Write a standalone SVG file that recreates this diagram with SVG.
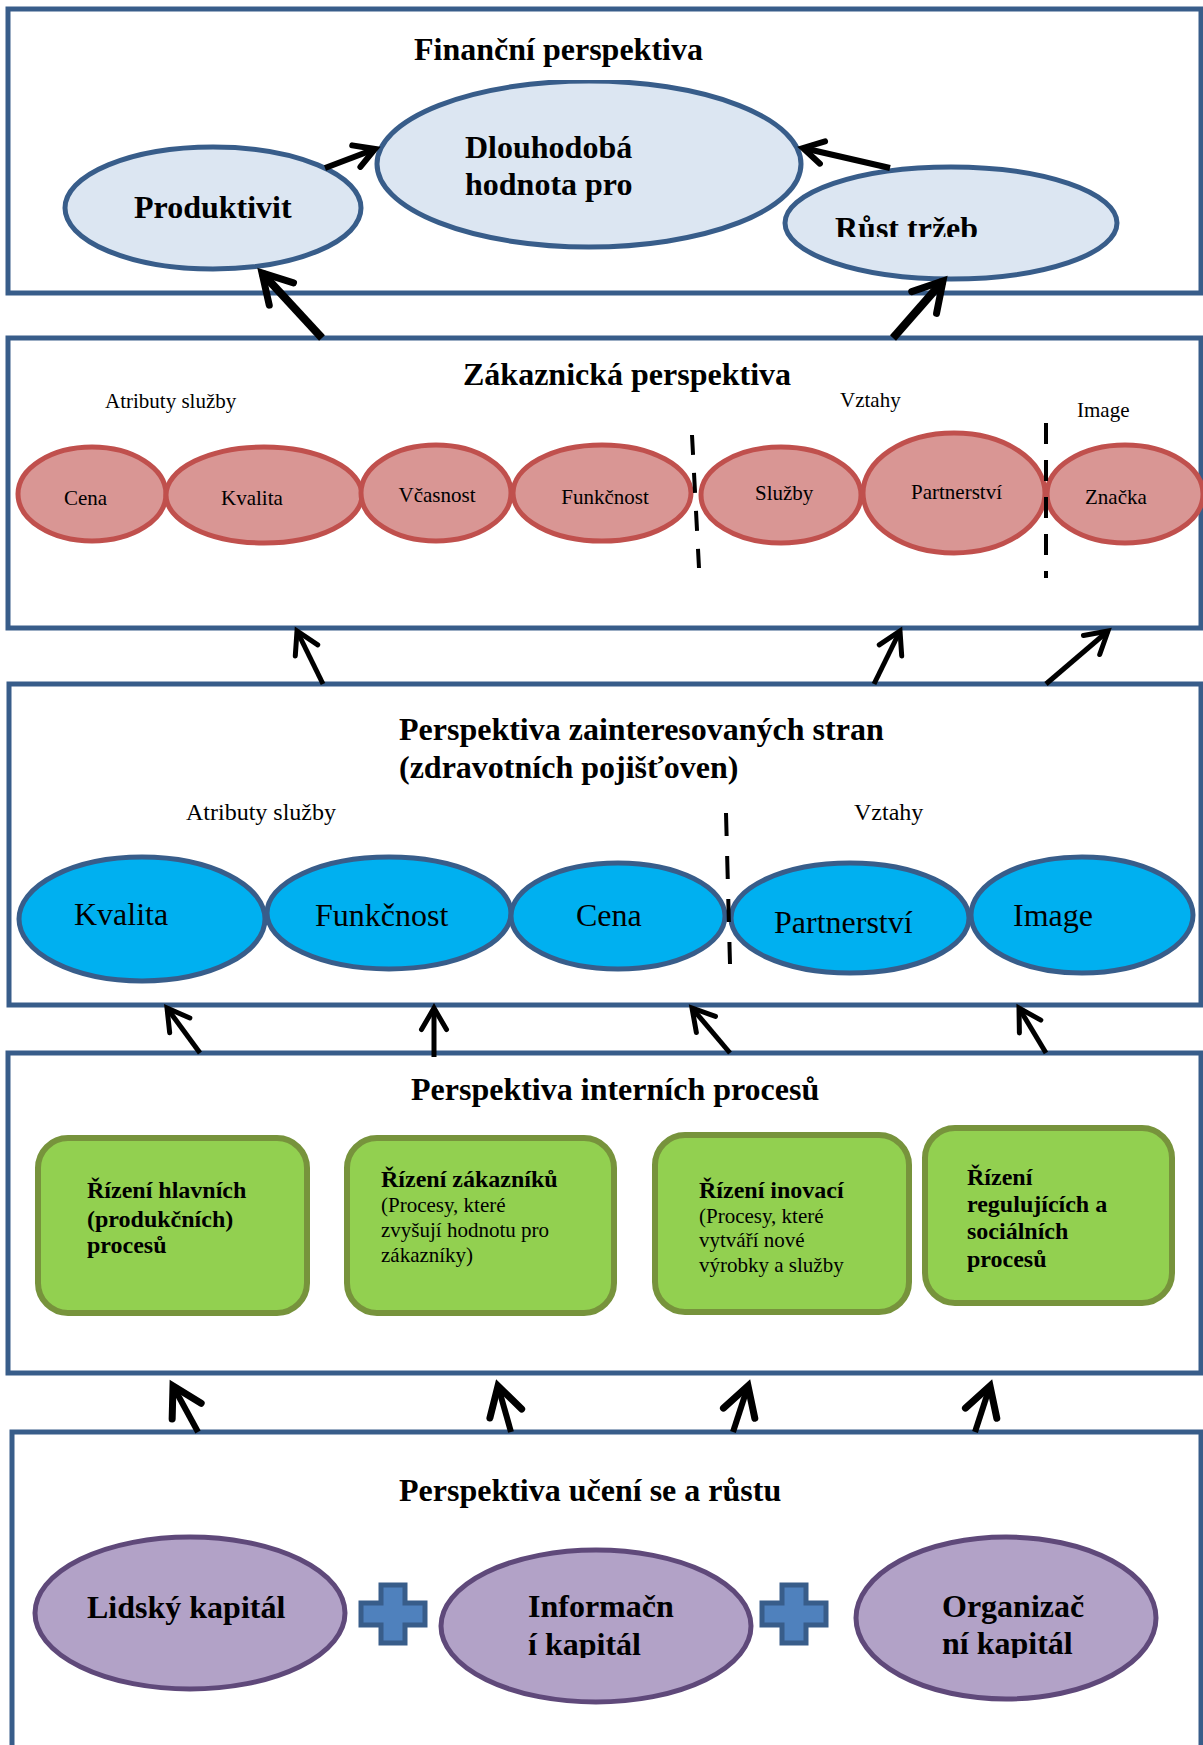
<svg xmlns="http://www.w3.org/2000/svg" width="1203" height="1745" viewBox="0 0 1203 1745">
<style>
text{font-family:"Liberation Serif","Times New Roman",serif;fill:#000}
.t{font-size:32px;font-weight:bold}
.fl{font-size:32px;font-weight:bold}
.sm{font-size:21px}
.md{font-size:24px}
.bl{font-size:32px}
.gb{font-size:24px;font-weight:bold}
.gr{font-size:21px}
.box{fill:#fff;stroke:#385D8A;stroke-width:5}
.fin{fill:#DCE6F2;stroke:#385D8A;stroke-width:5}
.red{fill:#D99694;stroke:#C0504D;stroke-width:5}
.blue{fill:#00B0F0;stroke:#385D8A;stroke-width:5}
.green{fill:#92D050;stroke:#77933C;stroke-width:6}
.purple{fill:#B2A2C7;stroke:#5F497A;stroke-width:5}
.plus{fill:#4F81BD;stroke:#385D8A;stroke-width:5}
.dash{stroke:#000;stroke-width:4;fill:none}
.a1{stroke:#000;stroke-width:6;fill:none;marker-end:url(#ah)}
.a2{stroke:#000;stroke-width:5;fill:none;marker-end:url(#ahm)}
.a3{stroke:#000;stroke-width:8;fill:none;marker-end:url(#ahL)}
.a4{stroke:#000;stroke-width:6;fill:none;marker-end:url(#ahL)}
</style>
<defs>
<marker id="ah" markerUnits="userSpaceOnUse" markerWidth="40" markerHeight="40" refX="0" refY="0" orient="auto" overflow="visible">
<path d="M-20,-11.5 L0,0 L-20,11.5" fill="none" stroke="#000" stroke-width="6" stroke-linecap="round"/>
</marker>
<marker id="ahm" markerUnits="userSpaceOnUse" markerWidth="40" markerHeight="40" refX="0" refY="0" orient="auto" overflow="visible">
<path d="M-21.6,-12.5 L0,0 L-21.6,12.5" fill="none" stroke="#000" stroke-width="5" stroke-linecap="round"/>
</marker>
<marker id="ahL" markerUnits="userSpaceOnUse" markerWidth="40" markerHeight="40" refX="0" refY="0" orient="auto" overflow="visible">
<path d="M-28.6,-16.5 L0,0 L-28.6,16.5" fill="none" stroke="#000" stroke-width="7" stroke-linecap="round"/>
</marker>
<clipPath id="clipR"><rect x="780" y="150" width="340" height="87"/></clipPath>
<clipPath id="clipD"><rect x="360" y="80" width="460" height="190"/></clipPath>
<clipPath id="clipK"><rect x="400" y="1590" width="800" height="68"/></clipPath>
<path id="plusShape" d="M-12,-29 H12 V-11 H32 V11 H12 V29 H-12 V11 H-32 V-11 H-12 Z"/>
</defs>
<rect x="0" y="0" width="1203" height="1745" fill="#fff"/>

<g id="financni">
<rect class="box" x="8" y="9" width="1193" height="284"/>
<text class="t" x="414" y="60">Finanční perspektiva</text>
<g id="dlouhodoba">
<ellipse class="fin" cx="589" cy="164" rx="212" ry="83" clip-path="url(#clipD)"/>
<text class="fl" x="465" y="158">Dlouhodobá</text>
<text class="fl" x="465" y="195">hodnota pro</text>
</g>
<g id="produktivita">
<ellipse class="fin" cx="213" cy="208" rx="148" ry="61"/>
<text class="fl" x="134" y="218">Produktivit</text>
</g>
<g id="rust">
<ellipse class="fin" cx="951" cy="223" rx="166" ry="56"/>
<text class="fl" x="835" y="239" clip-path="url(#clipR)">Růst tržeb</text>
</g>
</g>

<g id="zakaznicka">
<rect class="box" x="8" y="338" width="1193" height="290"/>
<text class="t" x="463" y="385">Zákaznická perspektiva</text>
<text class="sm" x="105" y="408">Atributy služby</text>
<text class="sm" x="840" y="407">Vztahy</text>
<text class="sm" x="1077" y="417">Image</text>
<g id="z-cena"><ellipse class="red" cx="92" cy="494" rx="74" ry="47"/><text class="sm" x="64" y="505">Cena</text></g>
<g id="z-kvalita"><ellipse class="red" cx="264" cy="495" rx="98" ry="48"/><text class="sm" x="221" y="505">Kvalita</text></g>
<g id="z-vcasnost"><ellipse class="red" cx="436" cy="493" rx="75" ry="48"/><text class="sm" x="437" y="502" text-anchor="middle">Včasnost</text></g>
<g id="z-funkcnost"><ellipse class="red" cx="602" cy="493" rx="89" ry="48"/><text class="sm" x="605" y="504" text-anchor="middle">Funkčnost</text></g>
<g id="z-sluzby"><ellipse class="red" cx="781" cy="495" rx="80" ry="48"/><text class="sm" x="755" y="500">Služby</text></g>
<g id="z-partnerstvi"><ellipse class="red" cx="954" cy="493" rx="91" ry="60"/><text class="sm" x="911" y="499">Partnerství</text></g>
<g id="z-znacka"><ellipse class="red" cx="1125" cy="494" rx="78" ry="49"/><text class="sm" x="1085" y="504">Značka</text></g>
<line class="dash" x1="692" y1="435" x2="699" y2="568" stroke-dasharray="20 18"/>
<line class="dash" x1="1046" y1="423" x2="1046" y2="578" stroke-dasharray="21 16"/>
</g>

<g id="zainteresovane">
<rect class="box" x="9" y="684" width="1192" height="321"/>
<text class="t" x="399" y="740">Perspektiva zainteresovaných stran</text>
<text class="t" x="399" y="778">(zdravotních pojišťoven)</text>
<text class="md" x="186" y="820">Atributy služby</text>
<text class="md" x="854" y="820">Vztahy</text>
<g id="s-kvalita"><ellipse class="blue" cx="142" cy="919" rx="123" ry="62"/><text class="bl" x="74" y="925">Kvalita</text></g>
<g id="s-funkcnost"><ellipse class="blue" cx="389" cy="913" rx="122" ry="56"/><text class="bl" x="315" y="926">Funkčnost</text></g>
<g id="s-cena"><ellipse class="blue" cx="618" cy="916" rx="107" ry="53"/><text class="bl" x="576" y="926">Cena</text></g>
<g id="s-partnerstvi"><ellipse class="blue" cx="850" cy="918" rx="119" ry="55"/><text class="bl" x="774" y="933">Partnerství</text></g>
<g id="s-image"><ellipse class="blue" cx="1082" cy="915" rx="111" ry="58"/><text class="bl" x="1013" y="926">Image</text></g>
<line class="dash" x1="726" y1="813" x2="730" y2="964" stroke-dasharray="23 20"/>
</g>

<g id="interni">
<rect class="box" x="8" y="1053" width="1193" height="320"/>
<text class="t" x="411" y="1100">Perspektiva interních procesů</text>
<g id="i-hlavni">
<rect class="green" x="38" y="1138" width="269" height="175" rx="30"/>
<text class="gb" x="87" y="1198">Řízení hlavních</text>
<text class="gb" x="87" y="1227">(produkčních)</text>
<text class="gb" x="87" y="1253">procesů</text>
</g>
<g id="i-zakaznici">
<rect class="green" x="347" y="1138" width="267" height="175" rx="30"/>
<text class="gb" x="381" y="1187">Řízení zákazníků</text>
<text class="gr" x="381" y="1212">(Procesy, které</text>
<text class="gr" x="381" y="1237">zvyšují hodnotu pro</text>
<text class="gr" x="381" y="1262">zákazníky)</text>
</g>
<g id="i-inovace">
<rect class="green" x="655" y="1135" width="254" height="177" rx="30"/>
<text class="gb" x="699" y="1198">Řízení inovací</text>
<text class="gr" x="699" y="1223">(Procesy, které</text>
<text class="gr" x="699" y="1247">vytváří nové</text>
<text class="gr" x="699" y="1272">výrobky a služby</text>
</g>
<g id="i-regulace">
<rect class="green" x="925" y="1128" width="247" height="175" rx="30"/>
<text class="gb" x="967" y="1185">Řízení</text>
<text class="gb" x="967" y="1212">regulujících a</text>
<text class="gb" x="967" y="1239">sociálních</text>
<text class="gb" x="967" y="1267">procesů</text>
</g>
</g>

<g id="uceni">
<rect class="box" x="12" y="1432" width="1189" height="340"/>
<text class="t" x="399" y="1501">Perspektiva učení se a růstu</text>
<g id="u-lidsky"><ellipse class="purple" cx="190" cy="1613" rx="155" ry="76"/><text class="fl" x="87" y="1618">Lidský kapitál</text></g>
<use href="#plusShape" class="plus" x="393" y="1614"/>
<g id="u-informacni"><ellipse class="purple" cx="596" cy="1626" rx="155" ry="76"/><text class="fl" x="528" y="1617">Informačn</text><text class="fl" x="528" y="1655" clip-path="url(#clipK)">í kapitál</text></g>
<use href="#plusShape" class="plus" x="794" y="1614"/>
<g id="u-organizacni"><ellipse class="purple" cx="1006" cy="1618" rx="150" ry="81"/><text class="fl" x="942" y="1617">Organizač</text><text class="fl" x="942" y="1654" clip-path="url(#clipK)">ní kapitál</text></g>
</g>

<g id="connectors">
<path class="a1" d="M325,168 L375,149"/>
<path class="a1" d="M890,168 L803,148"/>
<path class="a3" d="M322,338 L262,273"/>
<path class="a3" d="M893,338 L943,281"/>
<path class="a2" d="M323,684 L297,631"/>
<path class="a2" d="M874,684 L900,631"/>
<path class="a2" d="M1046,684 L1108,631"/>
<path class="a2" d="M200,1053 L167,1008"/>
<path class="a2" d="M434,1057 L434,1008"/>
<path class="a2" d="M730,1053 L692,1008"/>
<path class="a2" d="M1046,1053 L1019,1008"/>
<path class="a4" d="M198,1432 L173,1386"/>
<path class="a4" d="M511,1432 L498,1386"/>
<path class="a4" d="M733,1432 L748,1386"/>
<path class="a4" d="M975,1432 L990,1386"/>
</g>
</svg>
